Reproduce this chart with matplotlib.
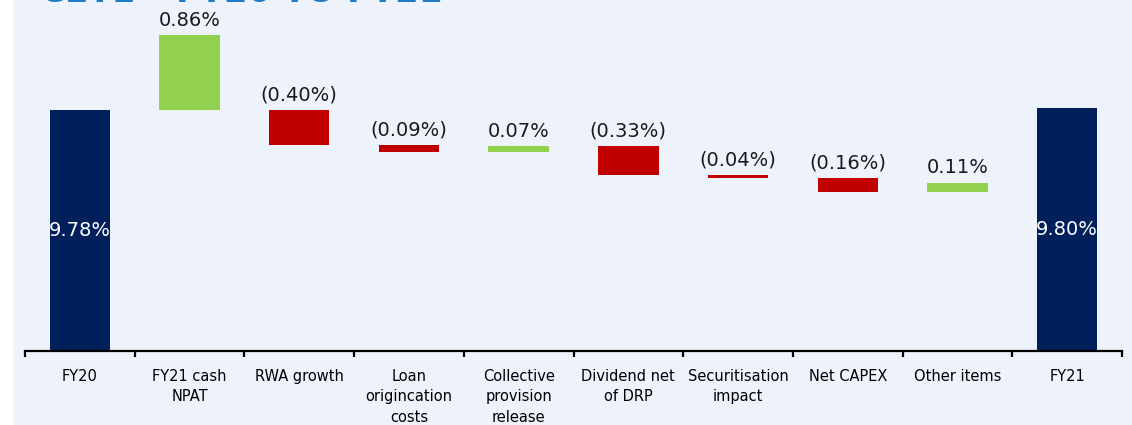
import numpy as np
import matplotlib
matplotlib.use("Agg")
import matplotlib.pyplot as plt
from matplotlib.patches import Rectangle

# CET1 walk, FY20 -> FY21 (values in %)
categories = ["FY20", "FY21 cash\nNPAT", "RWA growth", "Loan\norigincation\ncosts",
              "Collective\nprovision\nrelease", "Dividend net\nof DRP", "Securitisation\nimpact",
              "Net CAPEX", "Other items", "FY21"]
start_value = 9.78
end_value = 9.80
npat = 0.86
movements = [-0.40, -0.09, 0.07, -0.33, -0.04, -0.16, 0.11]
labels = ["9.78%", "0.86%", "(0.40%)", "(0.09%)", "0.07%", "(0.33%)",
          "(0.04%)", "(0.16%)", "0.11%", "9.80%"]

navy = "#00205B"
green = "#92D050"
red = "#C00000"
bg = "#EEF2FA"

fig = plt.figure(figsize=(11.32, 4.25), dpi=100)
fig.patch.set_facecolor("white")
fig.patches.append(Rectangle((13 / 1132, 0), 1, 1, transform=fig.transFigure,
                             facecolor=bg, edgecolor="none", zorder=-10))

# title sits mostly above the visible area, only its foot shows
fig.text(40 / 1132, 1 - 1.5 / 425, "CET1 \u2013 FY20 TO FY21", color="#1E7BC6",
         fontsize=24.5, fontweight="bold", va="baseline", ha="left")

ax = fig.add_axes([25 / 1132, 74 / 425, 1097 / 1132, 351 / 425])
ax.set_facecolor("none")

x = np.arange(len(categories))
w = 0.55
y_min = 7.0
ax.set_ylim(y_min, y_min + 351 / 86.7)
ax.set_xlim(-0.5, len(categories) - 0.5)

# totals
ax.bar(x[0], start_value - y_min, bottom=y_min, width=w, color=navy)
ax.bar(x[-1], end_value - y_min, bottom=y_min, width=w, color=navy)

# NPAT floats on top of FY20; the other items step down from the FY20 level
ax.bar(x[1], npat, bottom=start_value, width=w, color=green)
tops = [start_value + npat]
level = start_value
for i, m in enumerate(movements):
    lo, hi = (level, level + m) if m > 0 else (level + m, level)
    ax.bar(x[i + 2], hi - lo, bottom=lo, width=w, color=green if m > 0 else red)
    tops.append(hi)
    level += m

for i, t in enumerate(tops):
    ax.annotate(labels[i + 1], (x[i + 1], t), xytext=(0, 4), textcoords="offset points",
                ha="center", va="bottom", fontsize=14, color="#1a1a1a")

for xi, v, lab in [(x[0], start_value, labels[0]), (x[-1], end_value, labels[-1])]:
    ax.text(xi, (v + y_min) / 2, lab, ha="center", va="center", fontsize=14, color="white")

for s in ["left", "right", "top"]:
    ax.spines[s].set_visible(False)
ax.spines["bottom"].set_linewidth(1.6)
ax.spines["bottom"].set_color("black")
ax.set_yticks([])

ax.set_xticks(np.arange(len(categories) + 1) - 0.5)
ax.set_xticklabels([])
ax.tick_params(axis="x", which="major", direction="out", length=4, width=1.6, color="black")
ax.set_xticks(x, minor=True)
ax.set_xticklabels(categories, minor=True, fontsize=10.5, linespacing=1.45, color="black")
ax.tick_params(axis="x", which="minor", length=0, pad=13)

fig.savefig("out.png", dpi=100)
